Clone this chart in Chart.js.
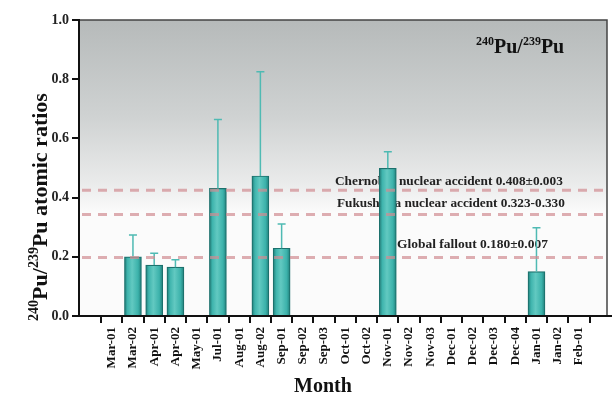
<!DOCTYPE html>
<html>
<head>
<meta charset="utf-8">
<script src="https://cdn.jsdelivr.net/npm/chart.js@4.4.1/dist/chart.umd.min.js"></script>
<style>
html,body{margin:0;padding:0;background:#fff;}
#wrap{width:612px;height:395px;position:relative;}
</style>
</head>
<body>
<div id="wrap"><canvas id="c" width="612" height="395"></canvas></div>
<script>
const months = ["Mar-01","Mar-02","Apr-01","Apr-02","May-01","Jul-01","Aug-01","Aug-02","Sep-01","Sep-02","Sep-03","Oct-01","Oct-02","Nov-01","Nov-02","Nov-03","Dec-01","Dec-02","Dec-03","Dec-04","Jan-01","Jan-02","Feb-01"];
const ratios = [null,0.200,0.172,0.165,null,0.431,null,0.473,0.229,null,null,null,null,0.499,null,null,null,null,null,null,0.150,null,null];
const errorTops = [null,0.274,0.212,0.190,null,0.664,null,0.825,0.311,null,null,null,null,0.555,null,null,null,null,null,null,0.298,null,null];
const refLevels = [0.425,0.343,0.198];
const refLabels = ["Chernobyl nuclear accident 0.408\u00b10.003","Fukushima nuclear accident 0.323-0.330","Global fallout 0.180\u00b10.007"];
const yTicks = [0,0.2,0.4,0.6,0.8,1.0];

const SERIF = '"Liberation Serif","Times New Roman",serif';
const BAR_W = 17;

function drawSupText(ctx, parts, x, y, size) {
  let cx = x;
  for (const p of parts) {
    if (p.sup) {
      ctx.font = 'bold ' + Math.round(size*0.62) + 'px ' + SERIF;
      ctx.fillText(p.t, cx, y - size*0.42);
    } else {
      ctx.font = 'bold ' + size + 'px ' + SERIF;
      ctx.fillText(p.t, cx, y);
    }
    cx += ctx.measureText(p.t).width;
  }
  return cx - x;
}
function measureSup(ctx, parts, size){
  let w=0;
  for (const p of parts){
    ctx.font = 'bold ' + (p.sup?Math.round(size*0.62):size) + 'px ' + SERIF;
    w += ctx.measureText(p.t).width;
  }
  return w;
}

const bgPlugin = {
  id:'bg',
  beforeDraw(chart){
    const {ctx, chartArea:a} = chart;
    const yS = chart.scales.y;
    const g = ctx.createLinearGradient(0, a.top, 0, yS.getPixelForValue(0.35));
    g.addColorStop(0,'#b6baba');
    g.addColorStop(0.5,'#cfd2d2');
    g.addColorStop(0.85,'#eaebeb');
    g.addColorStop(1,'#fbfbfb');
    ctx.save();
    ctx.fillStyle = g;
    ctx.fillRect(a.left, a.top, a.right-a.left, a.bottom-a.top);
    ctx.restore();
  },
  beforeDatasetsDraw(chart){
    const {ctx} = chart;
    const yS = chart.scales.y;
    ctx.save();
    ctx.fillStyle = '#222';
    ctx.textBaseline = 'alphabetic';
    const pos = [[335, refLevels[0], 228],[337, refLevels[1], 228],[397, refLevels[2], 151]];
    const off = [5, 7, 9];
    for (let i=0;i<3;i++){
      ctx.font = 'bold 12px ' + SERIF;
      const w = ctx.measureText(refLabels[i]).width;
      const fs = 12 * pos[i][2] / w;
      ctx.font = 'bold ' + fs.toFixed(2) + 'px ' + SERIF;
      const yy = yS.getPixelForValue(pos[i][1]) - off[i];
      ctx.fillText(refLabels[i], pos[i][0], yy);
    }
    ctx.restore();
  },
  afterDatasetsDraw(chart){
    const {ctx, chartArea:a} = chart;
    const xS = chart.scales.x, yS = chart.scales.y;
    ctx.save();
    ctx.strokeStyle = '#4fbab3';
    ctx.lineWidth = 1.5;
    for (let i=0;i<months.length;i++){
      if (ratios[i]==null) continue;
      const x = xS.getPixelForValue(i);
      const y0 = yS.getPixelForValue(ratios[i]);
      const y1 = yS.getPixelForValue(errorTops[i]);
      ctx.beginPath();
      ctx.moveTo(x, y0); ctx.lineTo(x, y1);
      ctx.moveTo(x-4, y1); ctx.lineTo(x+4, y1);
      ctx.stroke();
    }
    ctx.strokeStyle = 'rgba(208,140,145,0.7)';
    ctx.lineWidth = 3;
    ctx.setLineDash([9,7]);
    for (const v of refLevels){
      const y = yS.getPixelForValue(v);
      ctx.beginPath(); ctx.moveTo(a.left+3, y); ctx.lineTo(a.right, y); ctx.stroke();
    }
    ctx.setLineDash([]);
    ctx.strokeStyle = '#444';
    ctx.lineWidth = 1.5;
    ctx.beginPath(); ctx.moveTo(a.left, a.top); ctx.lineTo(a.right, a.top); ctx.lineTo(a.right, a.bottom); ctx.stroke();
    ctx.strokeStyle = '#111';
    ctx.lineWidth = 2;
    ctx.beginPath(); ctx.moveTo(a.left, a.top-1); ctx.lineTo(a.left, a.bottom); ctx.lineTo(612, a.bottom); ctx.stroke();
    ctx.restore();
  },
  afterDraw(chart){
    const {ctx} = chart;
    ctx.save();
    ctx.fillStyle = '#111';
    ctx.textBaseline = 'alphabetic';
    const tparts = [{t:'240',sup:true},{t:'Pu/',sup:false},{t:'239',sup:true},{t:'Pu',sup:false}];
    drawSupText(ctx, tparts, 476, 53, 20);
    const yparts = [{t:'240',sup:true},{t:'Pu/',sup:false},{t:'239',sup:true},{t:'Pu atomic ratios',sup:false}];
    const w = measureSup(ctx, yparts, 22);
    ctx.translate(47, 207);
    ctx.rotate(-Math.PI/2);
    drawSupText(ctx, yparts, -w/2, 0, 22);
    ctx.restore();
    ctx.save();
    ctx.fillStyle = '#111';
    ctx.font = 'bold 20px ' + SERIF;
    ctx.textAlign = 'center';
    ctx.textBaseline = 'alphabetic';
    ctx.fillText('Month', 323, 392);
    ctx.restore();
  }
};

const barData = months.map((m,i)=>({x:i, y:ratios[i]}));

function barFill(context){
  const chart = context.chart;
  const xS = chart.scales.x;
  if (!xS || context.dataIndex == null) return '#42b7b0';
  const x = xS.getPixelForValue(context.dataIndex);
  if (!isFinite(x)) return '#42b7b0';
  const g = chart.ctx.createLinearGradient(x - BAR_W/2, 0, x + BAR_W/2, 0);
  g.addColorStop(0, '#1f7c77');
  g.addColorStop(0.18, '#3fb4ad');
  g.addColorStop(0.45, '#62c9c1');
  g.addColorStop(0.8, '#3cb2ab');
  g.addColorStop(1, '#217f7a');
  return g;
}

new Chart(document.getElementById('c'), {
  type:'bar',
  data:{
    datasets:[{
      data: barData,
      backgroundColor: barFill,
      borderColor: '#1c716d',
      borderWidth: 1.2,
      barThickness: BAR_W
    }]
  },
  options:{
    responsive:false,
    animation:false,
    events:[],
    layout:{padding:{top:20,right:5,left:0,bottom:0}},
    plugins:{legend:{display:false},tooltip:{enabled:false}},
    scales:{
      x:{
        type:'linear',
        min:-1,
        max:22.78,
        afterBuildTicks(scale){ scale.ticks = months.map((m,i)=>({value:i})); },
        afterFit(scale){ scale.height = 79; },
        grid:{display:true, drawOnChartArea:false, drawTicks:true, tickLength:7, color:'#111', lineWidth:2},
        border:{display:false},
        ticks:{
          autoSkip:false, maxRotation:90, minRotation:90, padding:4,
          color:'#111',
          font:{family:SERIF, weight:'bold', size:13},
          callback(v){ return months[v]; }
        }
      },
      y:{
        min:0, max:1,
        afterBuildTicks(scale){ scale.ticks = yTicks.map(v=>({value:v})); },
        afterFit(scale){ scale.width = 79; },
        grid:{display:true, drawOnChartArea:false, drawTicks:true, tickLength:7, color:'#111', lineWidth:2},
        border:{display:false},
        ticks:{
          padding:3, color:'#222',
          font:{family:SERIF, weight:'bold', size:14},
          callback(v){ return Number(v).toFixed(1); }
        }
      }
    }
  },
  plugins:[bgPlugin]
});
</script>
</body>
</html>
